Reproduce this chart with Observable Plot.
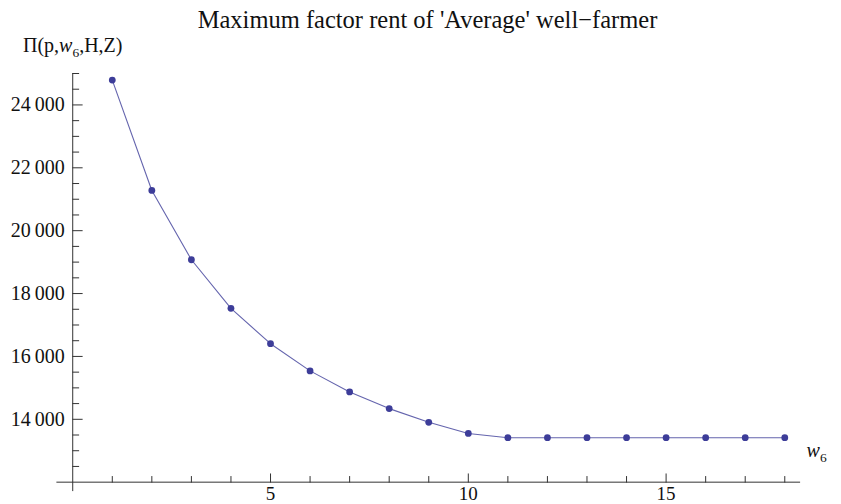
<!DOCTYPE html>
<html><head><meta charset="utf-8">
<script src="https://cdn.jsdelivr.net/npm/d3@7"></script>
<script src="https://cdn.jsdelivr.net/npm/@observablehq/plot@0.6"></script>
<style>
body{margin:0;background:#fff;overflow:hidden}
#wrap{position:relative;width:841px;height:504px}
#title{position:absolute;top:7.8px;left:0;width:841px;padding-left:14px;box-sizing:border-box;text-align:center;font-family:"Liberation Serif","Times New Roman",serif;font-size:24.5px;line-height:24.5px;color:#111;pointer-events:none;white-space:nowrap}
</style></head><body>
<div id="wrap"><div id="chart"></div><div id="title"></div></div>
<script>
const title = "Maximum factor rent of 'Average' well\u2212farmer";
const w6 = [1, 2, 3, 4, 5, 6, 7, 8, 9, 10, 11, 12, 13, 14, 15, 16, 17, 18];
const profit = [24790, 21280, 19075, 17530, 16405, 15540, 14870, 14340, 13905, 13550, 13415, 13415, 13415, 13415, 13415, 13415, 13415, 13415];
const yMajorTicks = [14000, 16000, 18000, 20000, 22000, 24000];
const yMinorTicks = [12500, 13000, 13500, 14500, 15000, 15500, 16500, 17000, 17500, 18500, 19000, 19500, 20500, 21000, 21500, 22500, 23000, 23500, 24500, 25000];
const xMajorTicks = [5, 10, 15];
const xMinorTicks = [1, 2, 3, 4, 6, 7, 8, 9, 11, 12, 13, 14, 16, 17, 18];
const xOrigin = 0;
const yOrigin = 12000;
const yLabel = "\u03A0(p,w6,H,Z)";
const xLabel = "w6";

document.getElementById("title").textContent = title;

const data = w6.map((w, i) => ({w, p: profit[i]}));
const axisColor = "#333";
const dotColor = "#3d3d99";
const tickShape = {draw(context, l) { context.moveTo(0, 0); context.lineTo(0, -l); }};
const fmt = d => d3.format(",")(d).replace(/,/g, "\u2009");

const svg = Plot.plot({
  width: 841, height: 504,
  marginLeft: 56.4, marginRight: 40.9, marginTop: 73, marginBottom: 12.9,
  style: {fontFamily: "'Liberation Serif','Times New Roman',serif", background: "#fff", color: "#111"},
  x: {domain: [-0.4, 18.4], axis: null},
  y: {domain: [11700, 25000], axis: null},
  marks: [
    Plot.ruleY([yOrigin], {stroke: axisColor, strokeWidth: 1}),
    Plot.ruleX([xOrigin], {stroke: axisColor, strokeWidth: 1}),
    Plot.vector(yMajorTicks, {x: () => xOrigin, y: d => d, length: 9.5, rotate: 90, anchor: "start", shape: tickShape, stroke: axisColor, strokeWidth: 1}),
    Plot.vector(yMinorTicks, {x: () => xOrigin, y: d => d, length: 6, rotate: 90, anchor: "start", shape: tickShape, stroke: axisColor, strokeWidth: 1}),
    Plot.vector(xMajorTicks, {x: d => d, y: () => yOrigin, length: 8.3, rotate: 0, anchor: "start", shape: tickShape, stroke: axisColor, strokeWidth: 1}),
    Plot.vector(xMinorTicks, {x: d => d, y: () => yOrigin, length: 5.7, rotate: 0, anchor: "start", shape: tickShape, stroke: axisColor, strokeWidth: 1}),
    Plot.text(yMajorTicks, {x: () => xOrigin, y: d => d, text: fmt, textAnchor: "end", lineAnchor: "middle", dx: -8, fontSize: 20, fill: "#111"}),
    Plot.text(xMajorTicks, {x: d => d, y: () => yOrigin, text: d => String(d), textAnchor: "middle", lineAnchor: "top", dy: 4.5, fontSize: 19, fill: "#111"}),
    Plot.line(data, {x: "w", y: "p", stroke: dotColor, strokeWidth: 1.1, strokeOpacity: 0.8}),
    Plot.dot(data, {x: "w", y: "p", r: 3.4, fill: dotColor, stroke: "none"}),
    Plot.text([yLabel], {x: () => xOrigin, frameAnchor: "top", dy: -21.3, lineAnchor: "bottom", textAnchor: "middle", fontSize: 20, fill: "#111"}),
    Plot.text([xLabel], {frameAnchor: "bottom-right", dx: 6, dy: -34.4, lineAnchor: "bottom", textAnchor: "start", fontSize: 20, fill: "#111"})
  ]
});
document.getElementById("chart").appendChild(svg);

function richify(str, parts) {
  d3.select(svg).selectAll("text").filter(function() { return this.textContent === str; }).each(function() {
    const t = d3.select(this);
    t.text(null);
    let shift = 0;
    parts.forEach(([s, kind]) => {
      const ts = t.append("tspan").text(s);
      if (kind === "i") ts.attr("font-style", "italic");
      if (kind === "sub") { ts.attr("font-size", 13.5).attr("dy", 4.5); shift = 4.5; }
      else if (shift) { ts.attr("dy", -shift); shift = 0; }
    });
  });
}
richify(yLabel, [["\u03A0(p,", "n"], ["w", "i"], ["6", "sub"], [",H,Z)", "n"]]);
richify(xLabel, [["w", "i"], ["6", "sub"]]);
</script>
</body></html>
